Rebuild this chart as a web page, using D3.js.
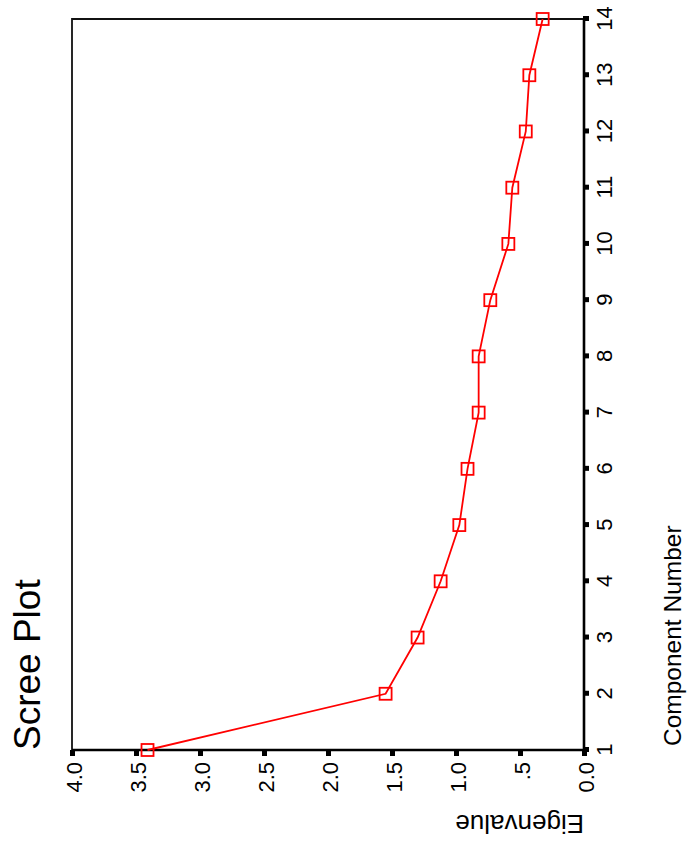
<!DOCTYPE html>
<html>
<head>
<meta charset="utf-8">
<script src="https://cdn.jsdelivr.net/npm/d3@7/dist/d3.min.js"></script>
<style>
  html, body { margin: 0; padding: 0; background: #fff; }
  svg { display: block; }
  text { font-family: "Liberation Sans", Arial, Helvetica, sans-serif; fill: #000; }
</style>
</head>
<body>
<svg id="chart" width="687" height="846"></svg>
<script>
// ---- data ----
const components = [1, 2, 3, 4, 5, 6, 7, 8, 9, 10, 11, 12, 13, 14];
const eigenvalues = [3.41, 1.55, 1.30, 1.12, 0.974, 0.91, 0.823, 0.823, 0.732, 0.591, 0.56, 0.455, 0.427, 0.323];
const eigenTicks = [0, 0.5, 1.0, 1.5, 2.0, 2.5, 3.0, 3.5, 4.0];
const eigenTickLabels = ["0.0", ".5", "1.0", "1.5", "2.0", "2.5", "3.0", "3.5", "4.0"];
const title = "Scree Plot";
const xTitle = "Component Number";
const yTitle = "Eigenvalue";

// ---- layout (chart drawn in its own frame, then rotated 90° counter-clockwise) ----
const W = 846, H = 687;
const svg = d3.select("#chart");
const g = svg.append("g").attr("transform", `translate(0,${W}) rotate(-90)`);

const x = d3.scaleLinear().domain([1, 14]).range([96, 827]);
const y = d3.scaleLinear().domain([0, 4]).range([584, 72]);

// frame (top and right sides in chart frame)
g.append("path")
  .attr("d", `M${x(1)},${y(4)} H${x(14)} V${y(0)}`)
  .attr("fill", "none").attr("stroke", "#111").attr("stroke-width", 1.8);

// x axis (component number)
const xAxis = g.append("g")
  .attr("transform", `translate(0,${y(0)})`)
  .call(d3.axisBottom(x).tickValues(components).tickSize(0).tickPadding(12).tickFormat(d3.format("d")));
xAxis.select(".domain").attr("stroke", "#000").attr("stroke-width", 2.6).attr("d", `M${x(1)},0H${x(14)}`);
xAxis.selectAll(".tick text").attr("font-size", 22).style("font-family", '"Liberation Sans", Arial, sans-serif');
xAxis.selectAll(".tick").append("rect")
  .attr("x", -2.5).attr("y", -1).attr("width", 5).attr("height", 6).attr("fill", "#000");

// y axis (eigenvalue)
const yAxis = g.append("g")
  .attr("transform", `translate(${x(1)},0)`)
  .call(d3.axisLeft(y).tickValues(eigenTicks).tickSize(0).tickPadding(12)
    .tickFormat((d, i) => eigenTickLabels[i]));
yAxis.select(".domain").attr("stroke", "#000").attr("stroke-width", 2.6).attr("d", `M0,${y(4)}V${y(0)}`);
yAxis.selectAll(".tick text").attr("font-size", 22).attr("dy", "0.45em").style("font-family", '"Liberation Sans", Arial, sans-serif');
yAxis.selectAll(".tick").append("rect")
  .attr("x", -6).attr("y", -2.5).attr("width", 6).attr("height", 5).attr("fill", "#000");

// line
const pts = components.map((c, i) => [c, eigenvalues[i]]);
g.append("path")
  .datum(pts)
  .attr("fill", "none").attr("stroke", "#ff0000").attr("stroke-width", 1.8)
  .attr("d", d3.line().x(d => x(d[0])).y(d => y(d[1])));

// markers
g.selectAll("rect.mk").data(pts).enter().append("rect")
  .attr("class", "mk")
  .attr("x", d => x(d[0]) - 6).attr("y", d => y(d[1]) - 6)
  .attr("width", 12).attr("height", 12)
  .attr("fill", "none").attr("stroke", "#ff0000").attr("stroke-width", 1.8);

// titles
g.append("text").attr("x", 96).attr("y", 40).attr("font-size", 37).text(title);
g.append("text").attr("x", 100).attr("y", 681).attr("font-size", 24.5).text(xTitle);
g.append("text")
  .attr("transform", `translate(31,${y(0)}) rotate(-90)`)
  .attr("font-size", 26).text(yTitle);
</script>
</body>
</html>
